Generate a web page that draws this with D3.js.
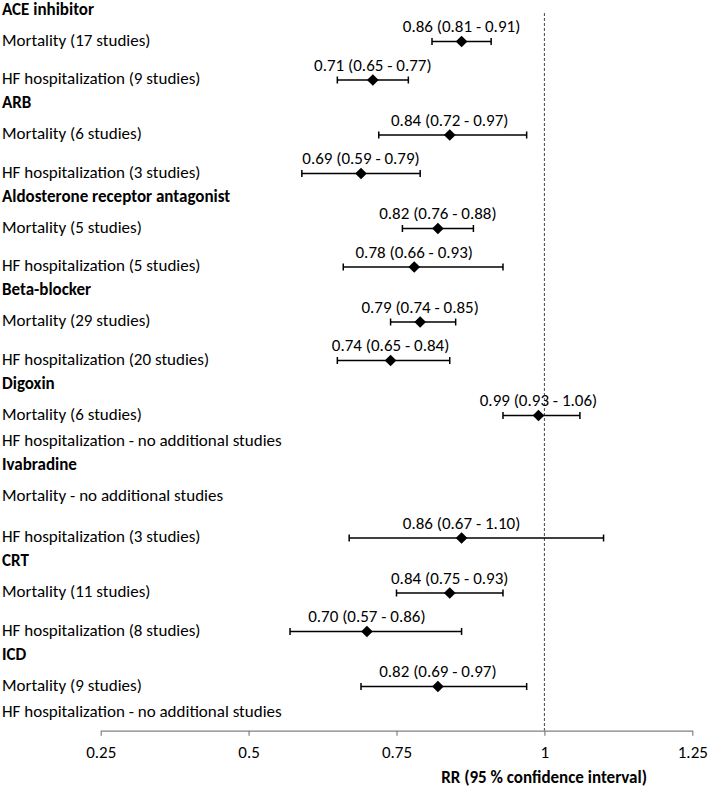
<!DOCTYPE html>
<html>
<head>
<meta charset="utf-8">
<script src="https://cdn.jsdelivr.net/npm/d3@7/dist/d3.min.js"></script>
<style>
  html, body { margin: 0; padding: 0; background: #fff; }
  svg { display: block; }
  text { font-family: Carlito, Calibri, Lato, sans-serif; fill: #000; }
</style>
</head>
<body>
<div id="chart"></div>
<script>
// ---- Data ----
const groups = ["ACE inhibitor", "ARB", "Aldosterone receptor antagonist", "Beta-blocker",
                "Digoxin", "Ivabradine", "CRT", "ICD"];
const rowGroup = [0, 0, 1, 1, 2, 2, 3, 3, 4, 4, 5, 5, 6, 6, 7, 7];
const rowLabels = [
  "Mortality (17 studies)", "HF hospitalization (9 studies)",
  "Mortality (6 studies)", "HF hospitalization (3 studies)",
  "Mortality (5 studies)", "HF hospitalization (5 studies)",
  "Mortality (29 studies)", "HF hospitalization (20 studies)",
  "Mortality (6 studies)", "HF hospitalization - no additional studies",
  "Mortality - no additional studies", "HF hospitalization (3 studies)",
  "Mortality (11 studies)", "HF hospitalization (8 studies)",
  "Mortality (9 studies)", "HF hospitalization - no additional studies"
];
const rr    = [0.86, 0.71, 0.84, 0.69, 0.82, 0.78, 0.79, 0.74, 0.99, null, null, 0.86, 0.84, 0.70, 0.82, null];
const lower = [0.81, 0.65, 0.72, 0.59, 0.76, 0.66, 0.74, 0.65, 0.93, null, null, 0.67, 0.75, 0.57, 0.69, null];
const upper = [0.91, 0.77, 0.97, 0.79, 0.88, 0.93, 0.85, 0.84, 1.06, null, null, 1.10, 0.93, 0.86, 0.97, null];
const xTicks = [0.25, 0.5, 0.75, 1, 1.25];
const axisTitle = "RR (95 % confidence interval)";
const refValue = 1;

// ---- Layout ----
const W = 709, H = 790;
const FS = 17;
const svg = d3.select("#chart").append("svg").attr("width", W).attr("height", H);

const rows = [];
groups.forEach((g, gi) => {
  rows.push({ kind: "group", label: g });
  rowGroup.forEach((rg, i) => {
    if (rg === gi) rows.push({ kind: rr[i] == null ? "none" : "study", label: rowLabels[i],
      rr: rr[i], lo: lower[i], hi: upper[i] });
  });
});
let pos = 0;
rows.forEach((r, i) => {
  if (i > 0) {
    const p = rows[i - 1];
    let gap;
    if (r.kind === "group") gap = 24;
    else if (p.kind === "group") gap = 31;
    else if (r.kind === "none") gap = 26.5;
    else if (p.kind === "none") gap = 41;
    else gap = 38.5;
    pos += gap;
  }
  r.pos = pos;
});

const y = d3.scaleLinear().domain([0, pos]).range([9, 9 + pos]);
const x = d3.scaleLinear().domain([0.25, 1.25]).range([100.7, 692.3]);
const axisY = 730.7;

// Reference dashed line
svg.append("line")
  .attr("x1", x(refValue)).attr("x2", x(refValue))
  .attr("y1", 13).attr("y2", axisY)
  .attr("stroke", "#444").attr("stroke-width", 1).attr("stroke-dasharray", "3,2");

// Row labels
svg.append("g").selectAll("text").data(rows).join("text")
  .attr("x", 2)
  .attr("y", d => y(d.pos))
  .attr("dy", "0.35em")
  .attr("font-size", FS)
  .attr("font-weight", d => d.kind === "group" ? "bold" : "normal")
  .text(d => d.label);

// Study rows
const studies = rows.filter(d => d.kind === "study");
const sg = svg.append("g").selectAll("g").data(studies).join("g")
  .attr("transform", d => `translate(0,${y(d.pos) + 1.5})`);

sg.append("line")
  .attr("x1", d => x(d.lo)).attr("x2", d => x(d.hi))
  .attr("stroke", "#000").attr("stroke-width", 1.5);
sg.append("line")
  .attr("x1", d => x(d.lo)).attr("x2", d => x(d.lo)).attr("y1", -3.5).attr("y2", 3.5)
  .attr("stroke", "#000").attr("stroke-width", 1.5);
sg.append("line")
  .attr("x1", d => x(d.hi)).attr("x2", d => x(d.hi)).attr("y1", -3.5).attr("y2", 3.5)
  .attr("stroke", "#000").attr("stroke-width", 1.5);
sg.append("path")
  .attr("d", d3.symbol(d3.symbolSquare, 68))
  .attr("transform", d => `translate(${x(d.rr)},0) rotate(45)`)
  .attr("fill", "#000");
sg.append("text")
  .attr("x", d => x(d.rr))
  .attr("y", -15)
  .attr("dy", "0.35em")
  .attr("text-anchor", "middle")
  .attr("font-size", FS)
  .text(d => `${d.rr.toFixed(2)} (${d.lo.toFixed(2)} - ${d.hi.toFixed(2)})`);

// X axis
const axis = d3.axisBottom(x).tickValues(xTicks).tickFormat(d => String(d))
  .tickSizeInner(5).tickSizeOuter(0).tickPadding(10);
const ax = svg.append("g").attr("transform", `translate(0,${axisY})`).call(axis);
ax.select(".domain").attr("stroke", "#808080").attr("stroke-width", 1.2);
ax.selectAll(".tick line").attr("stroke", "#808080").attr("stroke-width", 1.2);
ax.selectAll(".tick text").attr("font-size", FS).attr("fill", "#000")
  .style("font-family", "Carlito, Calibri, Lato, sans-serif");

svg.append("text")
  .attr("x", 647).attr("y", 777).attr("dy", "0.35em")
  .attr("text-anchor", "end")
  .attr("font-size", FS).attr("font-weight", "bold")
  .text(axisTitle);
</script>
</body>
</html>
